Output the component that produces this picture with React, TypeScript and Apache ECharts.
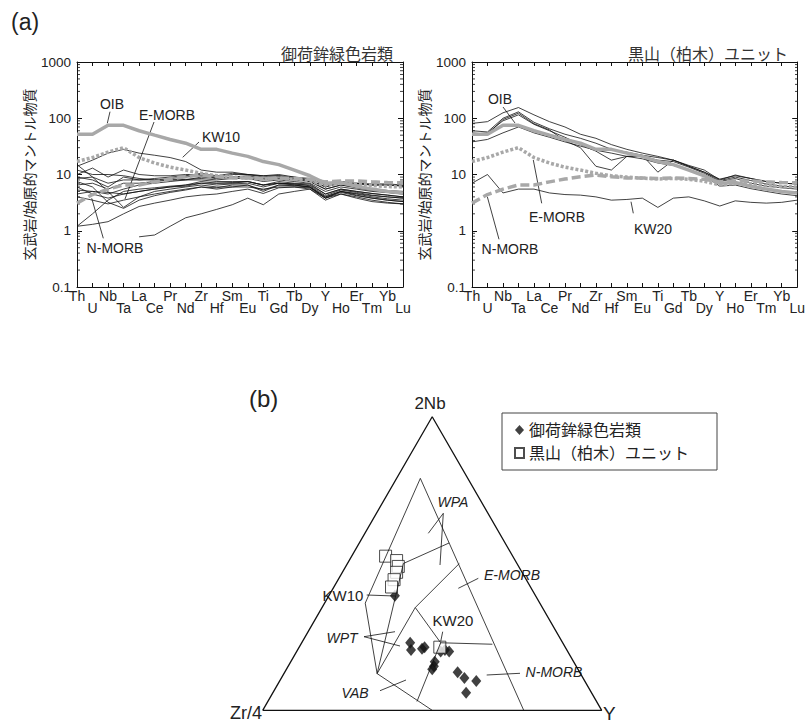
import React, { useEffect, useRef } from 'react';
import * as echarts from 'echarts';

const FONT = "'Liberation Sans', Arial, 'Noto Sans CJK JP', sans-serif";

// ---------- (a) spider diagrams ----------
const elements = ['Th','U','Nb','Ta','La','Ce','Pr','Nd','Zr','Hf','Sm','Eu','Ti','Gd','Tb','Dy','Y','Ho','Er','Tm','Yb','Lu'];
const yAxisName = '玄武岩/始原的マントル物質';
const minorTickValues = [2,3,4,5,6,7,8,9].flatMap((m) => [0.1, 1, 10, 100].map((d) => m * d));

const oib = [52, 52, 75, 75, 60, 50, 42, 36, 28, 28, 24, 21, 17, 15, 12, 9.5, 7, 7.2, 6.2, 5.5, 5, 4.7];
const emorb = [17, 20, 25, 30, 20, 16, 13.5, 12, 10.5, 9.5, 9, 8.6, 8.3, 8.5, 8.2, 7.6, 6.5, 7, 6.8, 6.4, 6.1, 6];
const nmorb = [3.1, 4.4, 5.5, 6.5, 6.5, 7.4, 8.3, 9.1, 9.8, 9.1, 8.7, 8.7, 8.5, 8.7, 8.5, 8.2, 7.4, 7.7, 7.7, 7.4, 7.2, 7.1];

const mikabuSpider: (number | null)[][] = [
  [15, 9, 5, 2.6, 4, 5, 5.5, 6, 6.5, 6, 6, 6.5, 5, 6.5, 6.5, 6, 4, 5, 4.3, 3.8, 3.5, 3.3],
  [1.2, 1.3, 1.45, 2, 2.7, 3.1, 3.5, 4, 4.3, 4.5, 5, 5.5, 4.6, 5.8, 6, 5.8, 3.8, 4.8, 4.2, 3.8, 3.5, 3.3],
  [1.2, 2, 3.5, 5, 5.5, 5.8, 6.2, 6.5, 7, 7, 7.2, 7.5, 6.5, 7.5, 7, 6.8, 4.5, 5.5, 5, 4.6, 4.3, 4],
  [10, 13, 9, 12, 10, 9.5, 9.5, 10, 10, 8.5, 9, 9, 8, 8.5, 8, 7.5, 5.5, 6.5, 6, 5.5, 5.2, 5],
  [9, 8, 6, 9, 8, 8.5, 9, 9.5, 10.5, 9.5, 10.5, 10, 9.5, 10, 9, 8, 6, 7.5, 7, 6.5, 6.5, 6.2],
  [7.5, 6, 3.2, 2.5, 3.5, 4.2, 4.8, 5.3, 6, 5.5, 6, 6, 5.5, 6, 6, 5.5, 3.5, 4.5, 4, 3.5, 3.2, 3],
  [6.5, 7, 5.5, 7, 7, 7.5, 8, 8.2, 8.5, 8, 8.5, 8.5, 7.5, 8, 7.5, 7, 5, 6, 5.5, 5, 4.8, 4.5],
  [5.3, 5, 4.8, 4.5, 5, 5.5, 6, 6.2, 7, 6.5, 6.8, 7, 6, 7, 6.8, 6.3, 4.2, 5.3, 4.8, 4.3, 4, 3.8],
  [4.5, 5, 4.5, 5.5, 6.5, 7, 7.5, 8, 9, 8.5, 9, 9.5, 8.5, 9, 8.5, 8, 6, 7, 6.8, 6.5, 6.5, 6.3],
  [12, 10, 10, 9.5, 8.5, 8, 8, 8, 8, 7.5, 7.5, 7.5, 6.5, 7, 6.8, 6.5, 4.5, 5.5, 5, 4.6, 4.3, 4],
  [8.5, 9, 7, 8, 8, 8, 8.5, 9, 9.5, 9, 10, 10, 9, 9.5, 9, 8.5, 6.5, 7.5, 7, 6.8, 6.8, 6.5],
  [6, 4.5, 3.8, 4.5, 5, 5.5, 6, 6.5, 7.5, 7, 7, 7.5, 6.5, 7, 6.5, 6, 3.8, 5, 4.5, 4, 3.7, 3.5],
  [14, 18, 24, 28, 24, 22, 20, 17, 12, 11, 11, 10, 9.5, 9.5, 8.5, 7.5, 5.5, 6.5, 5.8, 5.2, 4.8, 4.5],
  [null, null, null, null, 0.78, 0.84, 1.2, 1.7, 2.0, 2.4, 2.9, 3.8, 2.9, 4.5, 5.0, 5.5, 3.8, 4.5, 3.8, 3.3, 3.1, 3.0],
  [4, 3.5, 3, 3.5, 4, 4.5, 5, 5.5, 6, 5.8, 6.5, 6.5, 5.3, 6.5, 6.3, 6, 4, 5, 4.6, 4.2, 4, 3.8],
];

const kuroyamaSpider: number[][] = [
  [81, 87, 125, 155, 115, 87, 70, 52, 44, 34, 28, 24, 21, 18, 14, 11, 8.3, 9.5, 8.5, 7.5, 7, 6.8],
  [38, 42, 55, 70, 55, 46, 38, 32, 27, 24, 21, 19, 16, 14.5, 12, 9.5, 6.2, 6.5, 5.6, 5, 4.5, 4.2],
  [60, 57, 100, 130, 85, 65, 52, 44, 36, 28, 25, 22, 20, 18, 14.5, 12, 8, 9.8, 8.5, 7.5, 7, 6.8],
  [55, 52, 95, 123, 80, 62, 40, 30, 14, 12, 21, 21, 18, 17, 13.5, 10.5, 7.5, 8.5, 7, 6.2, 5.8, 5.5],
  [52, 55, 90, 115, 78, 60, 46, 34, 26, 18, 21, 22, 11, 18, 14, 11, 7.8, 9, 7.8, 6.8, 6.2, 6],
  [7, 10, 4.7, 5.5, 5.5, 4.7, 4.4, 4.3, 4.0, 3.5, 3.6, 3.8, 2.6, 3.8, 4.0, 3.4, 2.75, 3.4, 3.2, 3.1, 3.2, 3.5],
];

// ---------- (b) Nb-Zr-Y ternary (Meschede, 1986) : [2Nb, Zr/4, Y] ----------
const mikabuTernary = [
  [39, 41.5, 19.5],
  [23, 45, 32], [20.5, 46, 33.5], [21, 42.5, 36.5], [21.5, 41.5, 37],
  [20, 37.5, 42.5], [20.5, 36, 43.5], [20, 35, 45],
  [16.5, 41, 42.5], [15, 42, 43], [14, 43, 43],
  [13, 36, 51], [11, 35, 54], [10, 32, 58], [6, 37, 57],
];
const kuroyamaTernary = [
  [52.5, 37.5, 10], [51, 35, 14], [49, 35.5, 15.5], [47, 37, 16], [44.5, 39, 16.5], [42, 41, 17],
  [21.5, 37, 41.5],
];
const triangle = [[0, 100, 0], [100, 0, 0], [0, 0, 100], [0, 100, 0]];
const fieldLines = [
  [[79, 14, 7], [36.5, 51.5, 12], [12.5, 60, 27.5], [0, 50, 50]],
  [[79, 14, 7], [0, 23, 77]],
  [[50, 33.5, 16.5], [12.5, 60, 27.5]],
  [[50, 33.5, 16.5], [57, 16.5, 26.5]],
  [[50, 17, 33], [35, 37.5, 27.5], [12.5, 60, 27.5]],
  [[35, 37.5, 27.5], [23, 36, 41], [22.5, 21, 56.5]],
  [[23, 36, 41], [3, 53, 44]],
];

function toXY(t: number[]) {
  const s = t[0] + t[1] + t[2];
  const a = t[0] / s;
  const c = t[2] / s;
  return [c + a / 2, (a * Math.sqrt(3)) / 2];
}

const SPIDER_GRIDS = [
  { left: 77, top: 62, width: 326, height: 225 },
  { left: 472, top: 62, width: 326, height: 225 },
];

function spiderAxes(gridIndex: number) {
  const axisLine = { show: true, lineStyle: { color: '#111', width: 1 } };
  const xBase = {
    type: 'category', gridIndex, data: elements, boundaryGap: false,
    axisLine, splitLine: { show: false },
    axisTick: { show: true, inside: true, length: 4, interval: 0, lineStyle: { color: '#111' } },
  };
  const xBottom = {
    ...xBase, position: 'bottom',
    axisLabel: {
      interval: 0, fontSize: 14, color: '#222', fontFamily: FONT, margin: 3, lineHeight: 12,
      formatter: (v: string, i: number) => (i % 2 === 0 ? v : '\n' + v),
    },
  };
  const xTop = { ...xBase, position: 'top', axisLabel: { show: false } };
  const yBase = {
    type: 'log', gridIndex, logBase: 10, min: 0.1, max: 1000,
    axisLine, splitLine: { show: false },
    axisTick: { show: true, inside: true, length: 5, lineStyle: { color: '#111' } },
  };
  const yLeft = {
    ...yBase, position: 'left',
    name: yAxisName, nameLocation: 'middle', nameRotate: 90, nameGap: 37,
    nameTextStyle: { fontSize: 14, color: '#222', fontFamily: FONT },
    axisLabel: {
      fontSize: 13.5, color: '#222', fontFamily: FONT, margin: 6,
      formatter: (v: number) => String(parseFloat(Number(v).toPrecision(3))),
    },
  };
  const yRight = { ...yBase, position: 'right', axisLabel: { show: false } };
  return { x: [xBottom, xTop], y: [yLeft, yRight] };
}

function spiderSeries(samples: (number | null)[][], axisIndex: number) {
  const s: any[] = samples.map((d) => ({
    type: 'line', xAxisIndex: axisIndex, yAxisIndex: axisIndex, data: d,
    symbol: 'none', silent: true, connectNulls: false,
    lineStyle: { color: '#111', width: 0.8 },
  }));
  const ref = (d: number[], type: any) => ({
    type: 'line', xAxisIndex: axisIndex, yAxisIndex: axisIndex, data: d,
    symbol: 'none', silent: true,
    lineStyle: { color: '#a8a8a8', width: 3.5, type },
  });
  s.push(ref(oib, 'solid'), ref(emorb, [3, 2]), ref(nmorb, [9, 4]));
  return s;
}

export default function App() {
  const ref = useRef<HTMLDivElement>(null);
  useEffect(() => {
    document.body.style.margin = '0';
    const chart = echarts.init(ref.current!, undefined, { renderer: 'svg' });
    const a0 = spiderAxes(0);
    const a1 = spiderAxes(1);
    const lineBlack = { color: '#111', width: 0.8 };

    const ternarySeries: any[] = [
      {
        type: 'line', xAxisIndex: 4, yAxisIndex: 4, data: triangle.map(toXY), symbol: 'none', silent: true,
        lineStyle: { color: '#111', width: 1.3 },
      },
      ...fieldLines.map((pl) => ({
        type: 'line', xAxisIndex: 4, yAxisIndex: 4, data: pl.map(toXY), symbol: 'none', silent: true,
        lineStyle: lineBlack,
      })),
      {
        name: '御荷鉾緑色岩類', type: 'scatter', xAxisIndex: 4, yAxisIndex: 4,
        data: mikabuTernary.map(toXY), symbol: 'diamond', symbolSize: [10, 12],
        itemStyle: { color: '#111' },
      },
      {
        name: '黒山（柏木）ユニット', type: 'scatter', xAxisIndex: 4, yAxisIndex: 4,
        data: kuroyamaTernary.map(toXY), symbol: 'rect', symbolSize: 12,
        itemStyle: { color: '#fff', borderColor: '#222', borderWidth: 1 },
      },
    ];

    chart.setOption({
      animation: false,
      textStyle: { fontFamily: FONT },
      title: [
        { text: '(a)', left: 6, top: 5, textStyle: { fontSize: 23, fontWeight: 'normal', color: '#222', fontFamily: FONT } },
        { text: '御荷鉾緑色岩類', right: 410, top: 41, textStyle: { fontSize: 16, fontWeight: 'normal', color: '#333', fontFamily: FONT } },
        { text: '黒山（柏木）ユニット', right: 15, top: 41, textStyle: { fontSize: 16, fontWeight: 'normal', color: '#333', fontFamily: FONT } },
        { text: '(b)', left: 244, top: 381, textStyle: { fontSize: 24, fontWeight: 'normal', color: '#222', fontFamily: FONT } },
      ],
      legend: {
        orient: 'vertical', left: 502, top: 413,
        data: [{ name: '御荷鉾緑色岩類', icon: 'diamond' }, { name: '黒山（柏木）ユニット', icon: 'rect' }],
        itemWidth: 9, itemHeight: 10, itemGap: 7,
        padding: [9, 28, 9, 12],
        borderColor: '#444', borderWidth: 1,
        textStyle: { fontSize: 16, color: '#222', fontFamily: FONT },
        selectedMode: false,
      },
      grid: [
        { ...SPIDER_GRIDS[0] },
        { ...SPIDER_GRIDS[1] },
        { left: 262.7, top: 416.7, width: 339, height: 293.6 },
      ],
      xAxis: [
        ...a0.x, ...a1.x,
        { type: 'value', gridIndex: 2, min: 0, max: 1, show: false },
      ],
      yAxis: [
        ...a0.y, ...a1.y,
        { type: 'value', gridIndex: 2, min: 0, max: Math.sqrt(3) / 2, show: false },
      ],
      series: [
        ...spiderSeries(mikabuSpider, 0),
        ...spiderSeries(kuroyamaSpider, 2),
        ...ternarySeries,
      ],
    });

    // minor log ticks placed through the axis scale
    const graphics: any[] = [];
    const ln = (x1: number, y1: number, x2: number, y2: number, w = 0.8) => ({
      type: 'line', shape: { x1, y1, x2, y2 }, style: { stroke: '#111', lineWidth: w }, silent: true,
    });
    SPIDER_GRIDS.forEach((g, gi) => {
      minorTickValues.forEach((v) => {
        const y = chart.convertToPixel({ yAxisIndex: gi * 2 }, v) as unknown as number;
        graphics.push(ln(g.left, y, g.left + 3, y));
        graphics.push(ln(g.left + g.width, y, g.left + g.width - 3, y));
      });
    });
    const txt = (text: string, x: number, y: number, fontSize = 14, italic = false, align = 'center') => ({
      type: 'text', x, y, silent: true,
      style: {
        text, x: 0, y: 0, align, verticalAlign: 'middle', fontSize, fill: '#222',
        fontFamily: FONT, fontStyle: italic ? 'italic' : 'normal',
      },
    });
    // spider annotations
    graphics.push(
      txt('OIB', 112, 104), ln(110, 111.7, 107.3, 123.3),
      txt('E-MORB', 167, 115), ln(154, 122, 125, 199),
      txt('KW10', 221, 137), ln(199, 142, 182.7, 157.3),
      txt('N-MORB', 115, 248), ln(103.3, 238.3, 91.7, 198.3),
      txt('OIB', 500, 99), ln(503, 107, 515, 123),
      txt('E-MORB', 557, 217), ln(541.7, 203.3, 533.3, 160),
      txt('N-MORB', 510, 249), ln(499, 239.3, 487.3, 196.7),
      txt('KW20', 653, 229), ln(633.3, 213.3, 631, 201.7),
    );
    // ternary annotations
    graphics.push(
      txt('2Nb', 430, 403, 17),
      txt('Zr/4', 262, 713, 18, false, 'right'),
      txt('Y', 603, 713, 19, false, 'left'),
      txt('WPA', 453, 502, 14, true), ln(443.3, 513.3, 428.3, 533.3), ln(443.3, 513.3, 440, 565),
      txt('E-MORB', 512, 575, 14, true), ln(478.3, 578.3, 458.3, 588.3),
      txt('KW10', 343, 595, 15), ln(366.7, 595, 395, 596),
      txt('WPT', 342, 638, 14, true), ln(364, 636.7, 395, 631.7), ln(364, 636.7, 400, 646),
      txt('VAB', 355, 693, 14, true), ln(380, 690.7, 406, 680),
      txt('N-MORB', 554, 672, 14, true), ln(486.7, 675, 520, 673.3),
      txt('KW20', 453, 620, 15), ln(442.7, 631.7, 440, 645),
    );
    chart.setOption({ graphic: graphics });

    return () => chart.dispose();
  }, []);
  return <div ref={ref} style={{ width: 808, height: 722 }} />;
}
